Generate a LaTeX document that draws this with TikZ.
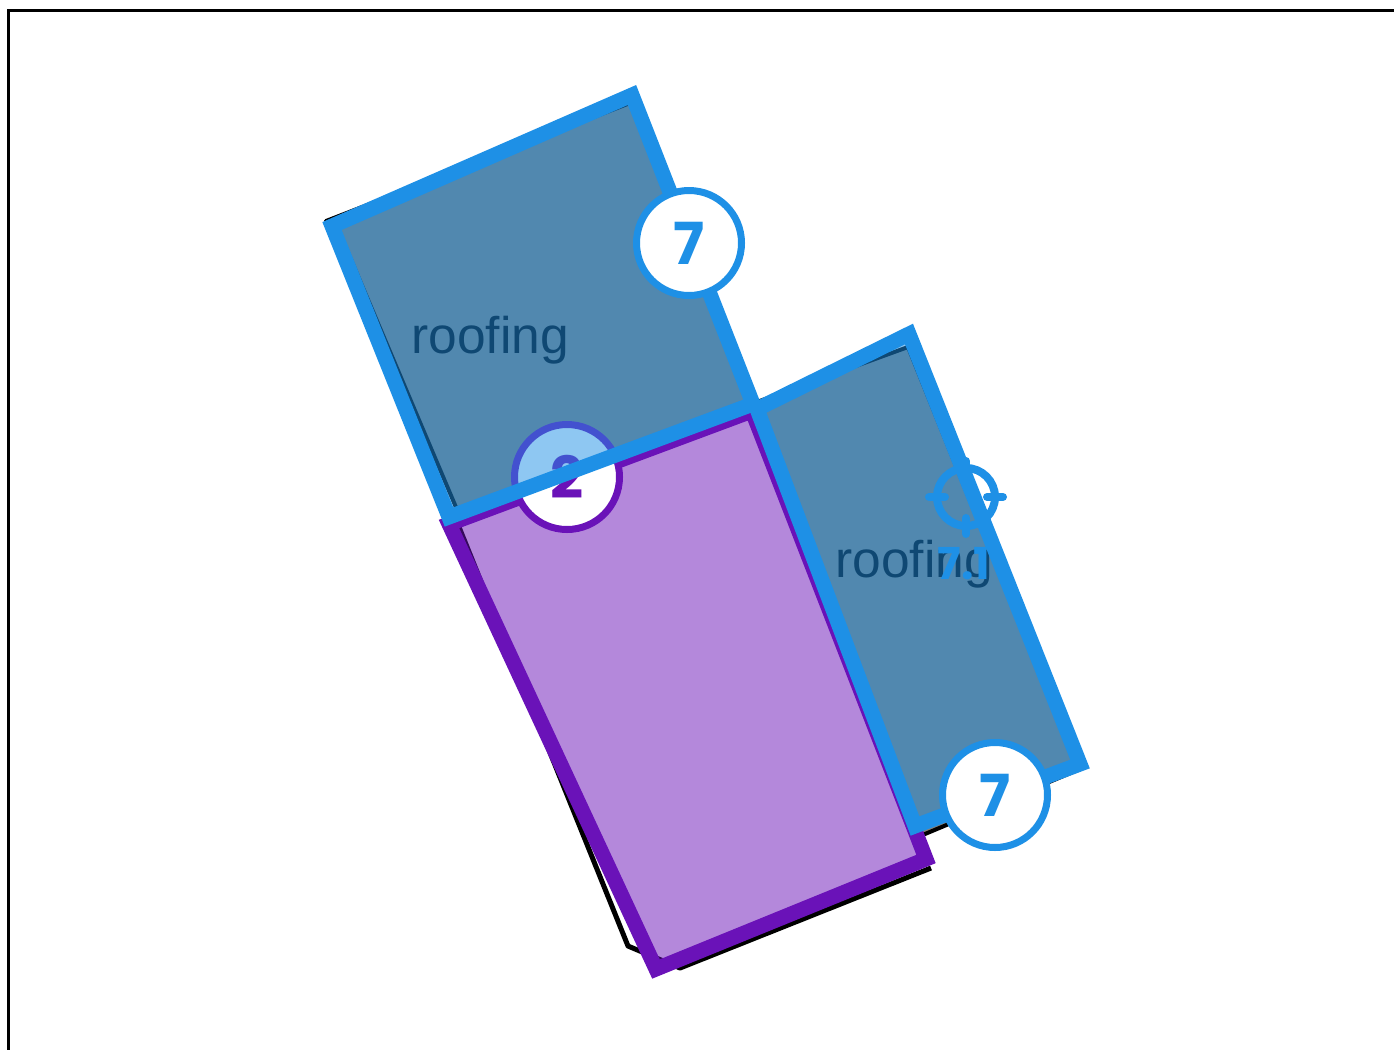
\documentclass[tikz,border=0pt]{standalone}
\usepackage{fontspec}
\setmainfont{Liberation Sans}
\newfontfamily\badgefont{Poppins}
\usetikzlibrary{positioning}
\definecolor{roofblue}{HTML}{1E90E6}
\definecolor{roofgray}{HTML}{868078}
\definecolor{violet}{HTML}{6A12B8}
\tikzset{
    outline/.style={draw=black, line width=5pt, line join=round},
    roofbase/.style={fill=roofgray, draw=black, line width=4pt, line join=round},
    roofzone/.style={draw=roofblue, line width=15pt, line join=miter, fill=roofblue, fill opacity=0.5},
    wallzone/.style={draw=violet, line width=15pt, line join=miter, fill=violet, fill opacity=0.5},
    badge/.style={circle, minimum size=105pt, inner sep=0pt, fill=white, line width=7pt,
        font=\badgefont\bfseries\fontsize{58}{58}\selectfont},
    tag/.style={font=\fontsize{51.5}{52}\selectfont, text=black, inner sep=0pt},
    target/.style={draw=roofblue, line width=8pt, line cap=round}
}
\begin{document}
\begin{tikzpicture}[x=1pt, y=-1pt]
    \useasboundingbox (0,0) rectangle (1394,1050);
    % frame
    \coordinate (frameA) at (1394,10.5);
    \coordinate (frameB) at (8.5,10.5);
    \coordinate (frameC) at (8.5,1050);
    \draw[black, line width=3pt] (frameA) -- (frameB) -- (frameC);
    % traced shapes underneath
    \coordinate (a1) at (326,221);
    \coordinate (a2) at (630,103);
    \coordinate (a3) at (752,403);
    \coordinate (a4) at (458,512);
    \coordinate (a5) at (338,229);
    \draw[roofbase] (a1) -- (a2) -- (a3) -- (a4) -- (a5) -- cycle;
    \coordinate (b1) at (757,402);
    \coordinate (b2) at (908,347);
    \coordinate (b6) at (1076,763);
    \coordinate (b3) at (1085,767);
    \coordinate (b4) at (925,834);
    \coordinate (b5) at (914,834);
    \draw[roofbase] (b1) -- (b2) -- (b6) -- (b3) -- (b4) -- (b5) -- cycle;
    \coordinate (c1) at (457,522);
    \coordinate (c2) at (628,946);
    \coordinate (c3) at (680,968);
    \coordinate (c4) at (931,868);
    \draw[outline] (c1) -- (c2) -- (c3) -- (c4);
    \node[tag] (roofA) at (490,340) {roofing};
    \node[tag] (roofB) at (914,564) {roofing};
    % wall zone and its badge
    \coordinate (w1) at (449,524);
    \coordinate (w2) at (656,969);
    \coordinate (w3) at (926,859);
    \coordinate (w4) at (752,411);
    \draw[wallzone] (w1) -- (w2) -- (w3) -- (w4) -- cycle;
    \node[badge, draw=violet, text=violet] (wallbadge) at (567,477) {2};
    % roof zones
    \coordinate (r1) at (332,226);
    \coordinate (r2) at (632,95);
    \coordinate (r3) at (753,404);
    \coordinate (r4) at (449,517);
    \draw[roofzone] (r1) -- (r2) -- (r3) -- (r4) -- cycle;
    \coordinate (s1) at (757,409);
    \coordinate (s2) at (909,334);
    \coordinate (s3) at (1080,764);
    \coordinate (s4) at (915,826);
    \draw[roofzone] (s1) -- (s2) -- (s3) -- (s4) -- cycle;
    % badges on top
    \node[badge, draw=roofblue, text=roofblue] (badgeA) at (689,243) {7};
    \node[badge, draw=roofblue, text=roofblue] (badgeB) at (995,795) {7};
    % target mark
    \node[circle, draw=roofblue, line width=8pt, minimum size=58pt, inner sep=0pt] (mark) at (966,497) {};
    \coordinate (m1) at (929,497);
    \coordinate (m2) at (945,497);
    \coordinate (m3) at (987,497);
    \coordinate (m4) at (1003,497);
    \coordinate (m5) at (966,461);
    \coordinate (m6) at (966,477);
    \coordinate (m7) at (966,518);
    \coordinate (m8) at (966,534);
    \draw[target] (m1) -- (m2);
    \draw[target] (m3) -- (m4);
    \draw[target] (m5) -- (m6);
    \draw[target] (m7) -- (m8);
    \node[font=\badgefont\bfseries\fontsize{44}{44}\selectfont, text=roofblue, inner sep=0pt] (marklabel) at (964,564) {7.1};
\end{tikzpicture}
\end{document}
